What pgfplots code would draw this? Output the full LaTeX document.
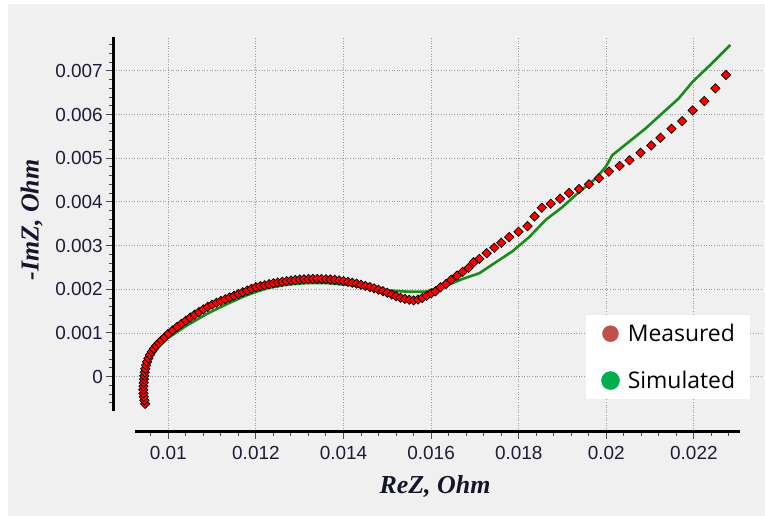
\documentclass[border=0pt]{standalone}
\usepackage{pgfplots}
\pgfplotsset{compat=1.18}
\usepackage{fontspec}
\setmainfont{Liberation Sans}
\newfontfamily\labelfont{Liberation Serif}
\newfontfamily\legendfont{Open Sans}

\definecolor{panel}{HTML}{F0F0F0}
\definecolor{ticktext}{HTML}{1C1C3A}
\definecolor{axistext}{HTML}{14142A}
\definecolor{gridgray}{HTML}{9A9A9A}
\definecolor{simgreen}{HTML}{1A8A1A}
\definecolor{legred}{HTML}{C0504D}
\definecolor{leggreen}{HTML}{00B050}

% Measured impedance spectrum (ReZ, -ImZ)
\pgfplotstableread{
x y
0.009470 -0.000620
0.009455 -0.000540
0.009440 -0.000460
0.009432 -0.000380
0.009430 -0.000300
0.009433 -0.000220
0.009438 -0.000140
0.009445 -0.000060
0.009452 0.000020
0.009462 0.000100
0.009475 0.000180
0.009492 0.000260
0.009515 0.000340
0.009545 0.000420
0.009580 0.000500
0.009622 0.000570
0.009670 0.000640
0.009722 0.000705
0.009780 0.000770
0.009845 0.000835
0.009915 0.000900
0.010000 0.000981
0.010100 0.001060
0.010200 0.001140
0.010300 0.001212
0.010400 0.001283
0.010500 0.001352
0.010600 0.001418
0.010700 0.001478
0.010800 0.001540
0.010900 0.001598
0.011000 0.001648
0.011100 0.001692
0.011200 0.001733
0.011300 0.001772
0.011400 0.001812
0.011500 0.001852
0.011600 0.001893
0.011700 0.001932
0.011800 0.001972
0.011900 0.002012
0.012000 0.002047
0.012100 0.002072
0.012200 0.002092
0.012300 0.002118
0.012400 0.002137
0.012500 0.002156
0.012600 0.002172
0.012700 0.002186
0.012800 0.002201
0.012900 0.002212
0.013000 0.002222
0.013100 0.002229
0.013200 0.002234
0.013300 0.002236
0.013400 0.002237
0.013500 0.002235
0.013600 0.002231
0.013700 0.002224
0.013800 0.002215
0.013900 0.002201
0.014000 0.002186
0.014100 0.002169
0.014200 0.002151
0.014300 0.002129
0.014400 0.002104
0.014500 0.002079
0.014600 0.002051
0.014700 0.002021
0.014800 0.001989
0.014900 0.001956
0.015000 0.001921
0.015100 0.001881
0.015200 0.001842
0.015300 0.001806
0.015400 0.001781
0.015500 0.001761
0.015600 0.001746
0.015700 0.001766
0.015800 0.001801
0.015900 0.001851
0.016000 0.001906
0.016099 0.001954
0.016213 0.002046
0.016342 0.002122
0.016455 0.002214
0.016592 0.002314
0.016721 0.002398
0.016858 0.002490
0.016972 0.002620
0.017101 0.002696
0.017268 0.002826
0.017442 0.002949
0.017602 0.003063
0.017784 0.003194
0.017996 0.003316
0.018201 0.003446
0.018361 0.003668
0.018528 0.003867
0.018732 0.003959
0.018945 0.004073
0.019150 0.004204
0.019378 0.004295
0.019605 0.004402
0.019833 0.004540
0.020061 0.004693
0.020304 0.004823
0.020531 0.004953
0.020782 0.005122
0.021025 0.005290
0.021237 0.005466
0.021488 0.005673
0.021731 0.005849
0.021973 0.006093
0.022239 0.006308
0.022489 0.006598
0.022732 0.006904
}\measured

% Simulated equivalent-circuit response
\pgfplotstableread{
x y
0.009414 -0.000620
0.009430 -0.000400
0.009445 -0.000150
0.009470 0.000050
0.009506 0.000226
0.009560 0.000390
0.009658 0.000528
0.009810 0.000717
0.010000 0.000890
0.010418 0.001170
0.010875 0.001434
0.011331 0.001660
0.011787 0.001864
0.012243 0.002023
0.012700 0.002106
0.013156 0.002143
0.013612 0.002143
0.014068 0.002106
0.014525 0.002038
0.014981 0.001977
0.015437 0.001947
0.015894 0.001947
0.016000 0.001985
0.016342 0.002084
0.016721 0.002237
0.017100 0.002367
0.017480 0.002620
0.017860 0.002872
0.018239 0.003194
0.018619 0.003591
0.018998 0.003882
0.019378 0.004226
0.019757 0.004533
0.019985 0.004800
0.020137 0.005068
0.020516 0.005374
0.020896 0.005680
0.021275 0.006024
0.021655 0.006369
0.021973 0.006751
0.022414 0.007172
0.022831 0.007593
}\simulated

\begin{document}
\begin{tikzpicture}
\fill[white] (0,0) rectangle (765bp,516bp);
\fill[panel] (8bp,0) rectangle (765bp,512bp);
\begin{axis}[
  at={(113.3bp,84.3bp)}, anchor=south west,
  scale only axis, width=648.7bp, height=395bp,
  xmin=0.008744, xmax=0.023555,
  ymin=-0.0012586, ymax=0.0077803,
  axis x line*=bottom, axis y line*=left,
  axis line style={draw=none},
  clip=false,
  scaled ticks=false,
  xtick={0.010,0.012,0.014,0.016,0.018,0.020,0.022},
  xticklabels={0.01,0.012,0.014,0.016,0.018,0.02,0.022},
  minor xtick={0.0096,0.0104,0.0108,0.0112,0.0116,0.0124,0.0128,0.0132,0.0136,0.0144,0.0148,0.0152,0.0156,0.0164,0.0168,0.0172,0.0176,0.0184,0.0188,0.0192,0.0196,0.0204,0.0208,0.0212,0.0216,0.0224,0.0228},
  ytick={0,0.001,0.002,0.003,0.004,0.005,0.006,0.007},
  yticklabels={0,0.001,0.002,0.003,0.004,0.005,0.006,0.007},
  minor ytick={-0.0006,-0.0004,-0.0002,0.0002,0.0004,0.0006,0.0008,0.0012,0.0014,0.0016,0.0018,0.0022,0.0024,0.0026,0.0028,0.0032,0.0034,0.0036,0.0038,0.0042,0.0044,0.0046,0.0048,0.0052,0.0054,0.0056,0.0058,0.0062,0.0064,0.0066,0.0068,0.0072,0.0074,0.0076},
  tick align=outside,
  major tick length=7bp, minor tick length=4.5bp,
  every tick/.style={gray!60!black, line width=1bp},
  grid=major,
  major grid style={gridgray, line width=0.9bp, dash pattern=on 1bp off 1.6bp},
  tick label style={font=\fontsize{19}{19}\selectfont, text=ticktext},
  xticklabel style={yshift=-4bp},
  legend cell align=left,
  legend style={at={(0.7287,0.2954)}, anchor=north west,
    fill=white, draw=none, inner xsep=15bp, inner ysep=9bp,
    row sep=28bp,
    nodes={inner sep=0pt},
    font=\legendfont\fontsize{23}{23}\selectfont},
  /tikz/every odd column/.append style={column sep=8bp},
]
\addplot[only marks, mark=square*, mark size=3.3bp,
  mark options={fill=red, draw=black, line width=0.7bp, rotate=45},
  legend image code/.code={\fill[legred] (0bp,0bp) circle (8bp);}]
  table[x=x, y=y] {\measured};
\addlegendentry{Measured}
\addplot[simgreen, line width=2.6bp, no marks,
  legend image code/.code={\fill[leggreen] (0bp,0bp) circle (8bp);}]
  table[x=x, y=y] {\simulated};
\addlegendentry{Simulated}
% detached axis lines
\draw[line width=3bp] (axis cs:0.008744,-0.000778) -- (axis cs:0.008744,0.0077803);
\draw[line width=3bp] (axis cs:0.00924,-0.0012586) -- (axis cs:0.02305,-0.0012586);
\end{axis}
\node[font=\labelfont\bfseries\itshape\fontsize{26}{26}\selectfont, text=axistext] at (435bp,29.3bp) {ReZ, Ohm};
\node[rotate=90, font=\labelfont\bfseries\itshape\fontsize{26}{26}\selectfont, text=axistext] at (31.7bp,296bp) {-ImZ, Ohm};
\end{tikzpicture}
\end{document}
